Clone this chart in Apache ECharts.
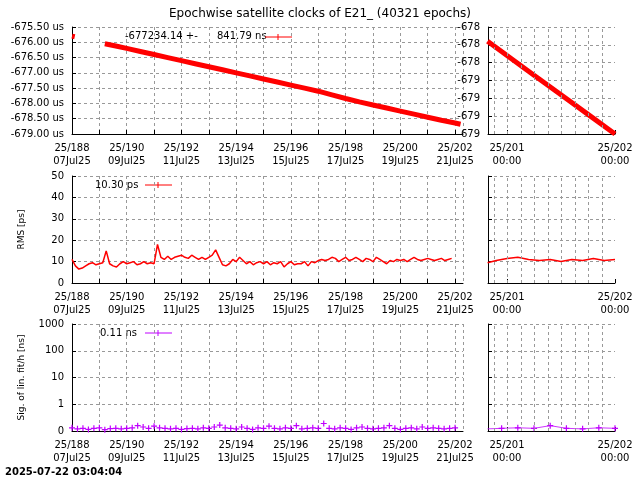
<!DOCTYPE html>
<html><head><meta charset="utf-8">
<script src="https://cdn.jsdelivr.net/npm/echarts@6/dist/echarts.min.js"></script>
<style>body{margin:0;background:#fff}#c{width:640px;height:480px}</style>
</head><body><div id="c"></div>
<script>
// clock offsets [day, us]
const clkDays = [188.0, 188.1, null, 189.2, 189.6, 190, 190.5, 191, 191.5, 192, 192.5, 193, 193.5, 194, 194.5, 195, 195.5, 196, 196.5, 197, 197.5, 198, 198.5, 199, 199.5, 200, 200.5, 201, 201.5, 202, 202.2];
const clkVals = [-675.8, -675.82, null, -676.05, -676.12, -676.2, -676.3, -676.4, -676.5, -676.6, -676.7, -676.8, -676.9, -677.0, -677.1, -677.2, -677.3, -677.4, -677.5, -677.6, -677.72, -677.84, -677.95, -678.05, -678.15, -678.25, -678.35, -678.45, -678.55, -678.64, -678.68];
const zoomDays = [200.82, 201, 201.25, 201.5, 201.75, 202.0];
const zoomVals = [-678.39, -678.43, -678.485, -678.54, -678.595, -678.65];
// RMS [ps], every 0.125 day from 188.0
const rmsVals = [11, 8, 6.5, 7, 8, 9, 9.5, 8.5, 9, 9.5, 15, 9, 8, 7.5, 9, 10, 9, 9.5, 10, 8.5, 9, 10, 9, 9.5, 9, 18, 12, 11, 12.5, 11, 12, 12.5, 13, 12, 11.5, 13, 12, 11, 12, 11, 12, 13, 15.5, 12, 8.5, 8, 9, 11, 10, 12, 10.5, 9, 10, 8.5, 9.5, 10, 9, 10, 8.5, 9.5, 9, 10, 7.5, 9, 10, 8.5, 9, 9, 10, 8, 10, 9.5, 10.5, 11, 10.5, 11, 12, 11.5, 10, 11, 12, 10.5, 11, 12, 11, 10, 11.5, 11, 10, 12, 11, 10, 9, 10.5, 10, 11, 10.5, 11, 10, 11, 12, 11, 10.5, 11, 11.5, 11, 10.5, 11, 11.5, 10.5, 11, 11.5];
const rmsZoomDays = [200.82, 200.9, 201.0, 201.1, 201.2, 201.3, 201.4, 201.5, 201.6, 201.7, 201.8, 201.9, 202.0];
const rmsZoomVals = [9.5, 10.5, 11.5, 12, 11, 10.5, 11, 10, 11, 10.5, 11.5, 10.5, 11];
// sig. of lin. fit [ns], every 0.2 day from 188.0
const sigVals = [0.12, 0.08, 0.1, 0.06, 0.1, 0.12, 0.05, 0.09, 0.1, 0.08, 0.1, 0.12, 0.2, 0.15, 0.1, 0.18, 0.12, 0.1, 0.08, 0.1, 0.06, 0.09, 0.1, 0.08, 0.12, 0.1, 0.15, 0.22, 0.12, 0.1, 0.08, 0.15, 0.1, 0.06, 0.12, 0.1, 0.18, 0.1, 0.08, 0.12, 0.1, 0.2, 0.08, 0.1, 0.12, 0.1, 0.28, 0.1, 0.08, 0.12, 0.1, 0.06, 0.12, 0.15, 0.1, 0.08, 0.1, 0.12, 0.2, 0.1, 0.06, 0.1, 0.12, 0.08, 0.15, 0.1, 0.12, 0.1, 0.08, 0.1, 0.12];
const sigZoomDays = [200.82, 200.95, 201.1, 201.25, 201.4, 201.55, 201.7, 201.85, 202.0];
const sigZoomVals = [0.08, 0.1, 0.12, 0.1, 0.2, 0.1, 0.08, 0.12, 0.1];
const sigTicks = ['0', '1', '10', '100', '1000'];
const zoomTicks = [200.875, 201, 201.125, 201.25, 201.375, 201.5, 201.625, 201.75, 201.875];

const F = 'DejaVu Sans';
const sig = v => v < 1 ? v : 1 + Math.log10(v);
const pairs = (xs, ys) => xs.map((x, i) => [x, ys[i]]);
const step = (vals, dt, f = v => v) => vals.map((v, i) => [+(188 + i * dt).toFixed(3), f(v)]);
const dayLabel = v => {
    if (v % 2 !== 0) return '';
    return '25/' + v + '\n' + String(v - 181).padStart(2, '0') + 'Jul25';
};
const grids = [
    { left: 72, right: 177, top: 27, height: 107 },
    { left: 488, right: 25, top: 27, height: 107 },
    { left: 72, right: 177, top: 176, height: 107 },
    { left: 488, right: 25, top: 176, height: 107 },
    { left: 72, right: 177, top: 324, height: 107 },
    { left: 488, right: 25, top: 324, height: 107 }
];
const dashStyle = { color: '#999', type: [3, 3], width: 1 };
const dash = { show: true, lineStyle: dashStyle };
const axLine = { show: true, lineStyle: { color: '#000', width: 1 } };
const lbl = { fontFamily: F, fontSize: 10, color: '#000' };
const xAxes = grids.map((g, i) => {
    const big = i % 2 === 0;
    return big ? {
        gridIndex: i, type: 'value', min: 188, max: 202.29, interval: 1,
        axisLine: axLine, splitLine: dash, axisTick: { inside: true, length: 4 },
        axisLabel: { ...lbl, formatter: dayLabel, showMaxLabel: false, lineHeight: 13 }
    } : {
        gridIndex: i, type: 'value', min: 200.824, max: 202.0,
        axisLine: axLine, splitLine: { show: false },
        axisTick: { inside: true, length: 4, customValues: [201, 202] },
        axisLabel: { ...lbl, customValues: [201, 202], lineHeight: 13,
            formatter: v => '25/' + Math.round(v) + '\n00:00' }
    };
});
const yAxes = [
    { min: -679, max: -675.5, interval: 0.5, axisLabel: { ...lbl, formatter: v => v.toFixed(2) + ' us' } },
    { min: -678.65, max: -678.35, interval: 0.05, axisLabel: { ...lbl, formatter: v => v > -678.47 ? '-678' : '-679' } },
    { min: 0, max: 50, interval: 10, name: 'RMS [ps]', axisLabel: lbl },
    { min: 0, max: 50, interval: 10, axisLabel: { show: false } },
    { min: 0, max: 4, interval: 1, name: 'Sig. of lin. fit/h [ns]', axisLabel: { ...lbl, formatter: v => sigTicks[v] } },
    { min: 0, max: 4, interval: 1, axisLabel: { show: false } }
].map((y, i) => ({
    gridIndex: i, type: 'value', ...y,
    nameLocation: 'middle', nameGap: 46, nameTextStyle: { fontFamily: F, fontSize: 9, color: '#000' },
    axisLine: axLine, splitLine: dash, axisTick: { inside: true, length: 4 }
}));
const red = '#ff0000', pur = '#c000ff';
const ser = (i, data, color, width, sym) => {
    const s = {
        type: 'line', xAxisIndex: i, yAxisIndex: i, data, connectNulls: false,
        lineStyle: { color, width }, itemStyle: { color },
        symbol: sym ? 'path://M4,0H6V4H10V6H6V10H4V6H0V4H4Z' : 'none', symbolSize: 6, showAllSymbol: true,
        silent: true, animation: false
    };
    if (i % 2 === 1) {
        s.markLine = { silent: true, symbol: 'none', label: { show: false }, lineStyle: dashStyle,
            data: zoomTicks.map(x => ({ xAxis: x })) };
    }
    return s;
};
const sigPts = ser(4, step(sigVals, 0.2, sig), pur, 0, true);
sigPts.lineStyle.opacity = 0;
const sigZ = ser(5, pairs(sigZoomDays, sigZoomVals.map(sig)), pur, 0.8, true);

const chart = echarts.init(document.getElementById('c'), null, { renderer: 'canvas' });
chart.setOption({
    animation: false,
    title: { text: 'Epochwise satellite clocks of E21_ (40321 epochs)', left: 'center', top: 3,
        textStyle: { fontFamily: F, fontSize: 12, fontWeight: 'normal', color: '#000' } },
    grid: grids,
    xAxis: xAxes,
    yAxis: yAxes,
    series: [
        ser(0, pairs(clkDays, clkVals), red, 5),
        ser(1, pairs(zoomDays, zoomVals), red, 5),
        ser(2, step(rmsVals, 0.125), red, 1.5),
        ser(3, pairs(rmsZoomDays, rmsZoomVals), red, 1.5),
        sigPts, sigZ
    ],
    graphic: [
        { type: 'text', left: 125, top: 31, style: { text: '-677234.14 +-      841.79 ns', font: '10px DejaVu Sans', fill: '#000' } },
        { type: 'line', shape: { x1: 265, y1: 37, x2: 292, y2: 37 }, style: { stroke: red, lineWidth: 1 } },
        { type: 'line', shape: { x1: 278, y1: 34, x2: 278, y2: 40 }, style: { stroke: red, lineWidth: 1 } },
        { type: 'text', left: 95, top: 180, style: { text: '10.30 ps', font: '10px DejaVu Sans', fill: '#000' } },
        { type: 'line', shape: { x1: 145, y1: 185, x2: 172, y2: 185 }, style: { stroke: red, lineWidth: 1 } },
        { type: 'line', shape: { x1: 158, y1: 182, x2: 158, y2: 188 }, style: { stroke: red, lineWidth: 1 } },
        { type: 'text', left: 100, top: 328, style: { text: '0.11 ns', font: '10px DejaVu Sans', fill: '#000' } },
        { type: 'line', shape: { x1: 145, y1: 333, x2: 172, y2: 333 }, style: { stroke: pur, lineWidth: 1 } },
        { type: 'line', shape: { x1: 158, y1: 330, x2: 158, y2: 336 }, style: { stroke: pur, lineWidth: 1 } },
        { type: 'text', left: 5, top: 467, style: { text: '2025-07-22 03:04:04', font: 'bold 10px DejaVu Sans', fill: '#000' } }
    ]
});
</script></body></html>
